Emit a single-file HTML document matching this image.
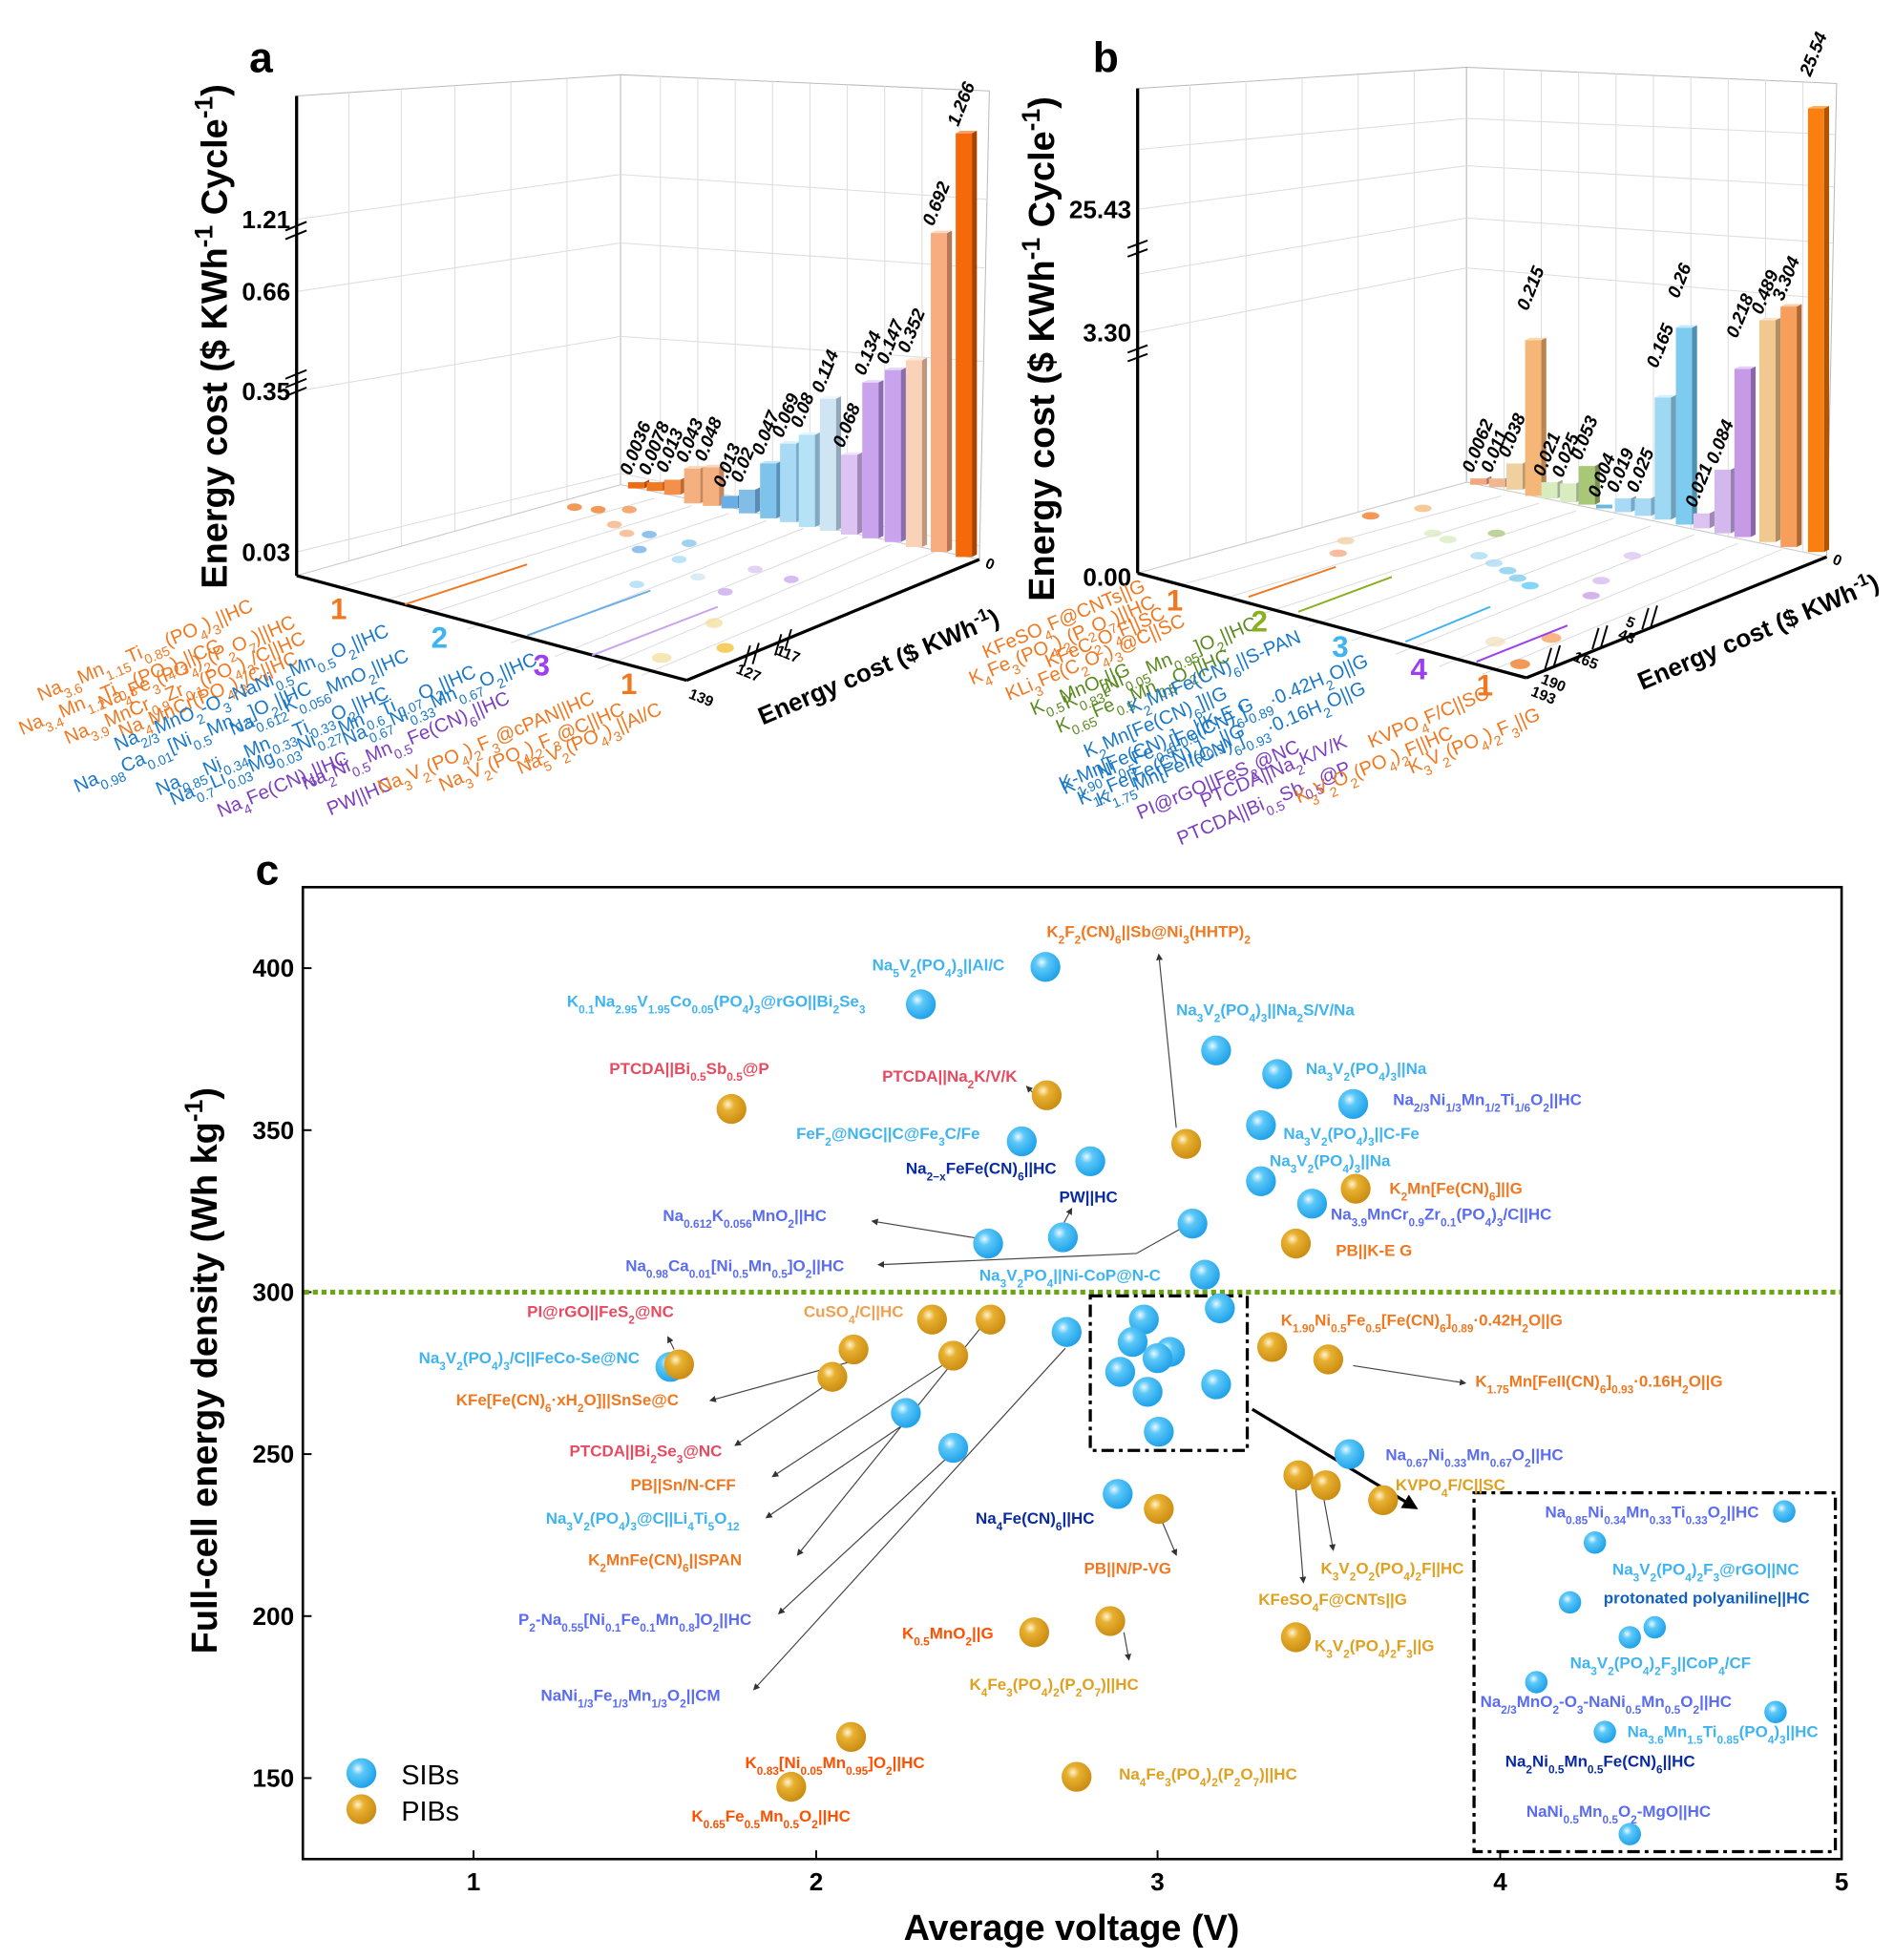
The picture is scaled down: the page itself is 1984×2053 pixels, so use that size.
<!DOCTYPE html>
<html><head><meta charset="utf-8">
<style>
html,body{margin:0;padding:0;background:#fff;}
svg{display:block;font-family:"Liberation Sans",sans-serif;}
.s{font-size:70%;baseline-shift:sub;}
.u{font-size:70%;baseline-shift:super;}
.t{font-weight:bold;font-size:13px;}
.lb{fill:#3fb4f0}.bp{fill:#5a6cf0}.db{fill:#0a2aa0}.or{fill:#f07820}.rd{fill:#e84a5f}.gd{fill:#e0a020}.orr{fill:#ff5000}.pb{fill:#1060c0}
.n{font-weight:bold;font-style:italic;font-size:14.5px;fill:#000}
.ca{font-size:15.5px}
.c1{fill:#f07820}.c2{fill:#1a78c8}.c3{fill:#7b3fc0}.cg{fill:#5a8a20}
.g{stroke:#ddd;stroke-width:0.8;fill:none}
.tk{font-family:"Liberation Sans Narrow","Liberation Sans",sans-serif;font-size:20px;font-weight:bold}
</style></head><body>
<svg width="1984" height="2053" viewBox="0 0 1520 1573" xmlns="http://www.w3.org/2000/svg">
<defs>
<radialGradient id="bb" cx="0.38" cy="0.35" r="0.7"><stop offset="0" stop-color="#eaf8ff"/><stop offset="0.3" stop-color="#5cc8f8"/><stop offset="1" stop-color="#1a9ee8"/></radialGradient>
<radialGradient id="gb" cx="0.38" cy="0.35" r="0.7"><stop offset="0" stop-color="#fff4d0"/><stop offset="0.3" stop-color="#e8b030"/><stop offset="1" stop-color="#c88a10"/></radialGradient>
<marker id="ar" markerWidth="6" markerHeight="6" refX="5" refY="3" orient="auto"><path d="M0,0L6,3L0,6z" fill="#333"/></marker>
<marker id="ab" markerWidth="5" markerHeight="5" refX="4" refY="2.5" orient="auto"><path d="M0,0L5,2.5L0,5z" fill="#000"/></marker>
</defs>

<!-- ============ PANEL A ============ -->
<text x="200" y="58" font-size="34" font-weight="bold">a</text>
<polygon points="238,77 498,60 498,389 238,462" fill="#fff" stroke="#bbb" stroke-width="0.8"/>
<polygon points="498,60 794,73 786,449 498,389" fill="#fff" stroke="#bbb" stroke-width="0.8"/>
<polygon points="238,462 498,389 786,449 551,546" fill="#fff" stroke="#ccc" stroke-width="0.8"/>
<g class="g">
<line x1="238" y1="176" x2="498" y2="140"/><line x1="238" y1="234" x2="498" y2="195"/><line x1="238" y1="314" x2="498" y2="270"/><line x1="238" y1="443" x2="498" y2="380"/>
<line x1="498" y1="140" x2="792" y2="160"/><line x1="498" y1="195" x2="790" y2="215"/><line x1="498" y1="270" x2="789" y2="290"/><line x1="498" y1="380" x2="786" y2="438"/>
<line x1="280" y1="74" x2="280" y2="450"/><line x1="322" y1="71" x2="322" y2="438"/><line x1="365" y1="69" x2="365" y2="426"/><line x1="410" y1="66" x2="410" y2="414"/><line x1="455" y1="63" x2="455" y2="401"/>
<line x1="530" y1="61" x2="530" y2="396"/><line x1="560" y1="63" x2="560" y2="402"/><line x1="590" y1="64" x2="590" y2="408"/><line x1="620" y1="65" x2="620" y2="414"/><line x1="650" y1="67" x2="650" y2="420"/><line x1="680" y1="68" x2="680" y2="427"/><line x1="710" y1="69" x2="710" y2="433"/><line x1="740" y1="71" x2="740" y2="439"/><line x1="770" y1="72" x2="770" y2="445"/>
<line x1="270" y1="472" x2="525" y2="400"/><line x1="305" y1="483" x2="555" y2="406"/><line x1="340" y1="494" x2="585" y2="412"/><line x1="375" y1="505" x2="615" y2="418"/><line x1="410" y1="516" x2="645" y2="424"/><line x1="445" y1="527" x2="680" y2="431"/><line x1="480" y1="537" x2="715" y2="437"/><line x1="515" y1="542" x2="750" y2="443"/>
</g>
<line x1="238" y1="77" x2="238" y2="462" stroke="#000" stroke-width="2.5"/>
<line x1="238" y1="462" x2="551" y2="546" stroke="#000" stroke-width="2.5"/>
<line x1="551" y1="546" x2="786" y2="449" stroke="#000" stroke-width="2.5"/>
<g stroke="#000" stroke-width="1.5">
<line x1="229" y1="185" x2="246" y2="178"/><line x1="229" y1="192" x2="246" y2="185"/>
<line x1="229" y1="304" x2="246" y2="297"/><line x1="229" y1="311" x2="246" y2="304"/><line x1="229" y1="318" x2="246" y2="311"/>
<line x1="597" y1="535" x2="602" y2="518"/><line x1="604" y1="533" x2="609" y2="516"/>
<line x1="622" y1="526" x2="627" y2="509"/><line x1="630" y1="522" x2="635" y2="505"/>
</g>
<g class="tk" text-anchor="end">
<text x="233" y="183">1.21</text><text x="233" y="241">0.66</text><text x="233" y="321">0.35</text><text x="233" y="450">0.03</text>
</g>
<text transform="translate(182,270) rotate(-90)" text-anchor="middle" font-size="29" font-weight="bold">Energy cost ($ KWh<tspan class="u">-1</tspan> Cycle<tspan class="u">-1</tspan>)</text>
<g font-size="12" font-weight="bold">
<text transform="translate(552,560) rotate(22)">139</text><text transform="translate(590,540) rotate(22)">127</text><text transform="translate(622,525) rotate(22)">117</text><text transform="translate(790,455) rotate(22)">0</text>
</g>
<text transform="translate(612,582) rotate(-23)" font-size="20" font-weight="bold">Energy cost ($ KWh<tspan class="u">-1</tspan>)</text>
<g opacity="0.75">
<ellipse cx="461" cy="407" rx="6" ry="3" fill="#f07820"/><ellipse cx="480" cy="409" rx="6" ry="3" fill="#f07820"/><ellipse cx="505" cy="409" rx="6" ry="3" fill="#f4904a"/>
<ellipse cx="493" cy="421" rx="6" ry="3" fill="#f5b080"/><ellipse cx="503" cy="428" rx="6" ry="3" fill="#f5b080"/><ellipse cx="521" cy="429" rx="6" ry="3" fill="#6aaee6"/>
<ellipse cx="513" cy="441" rx="6" ry="3" fill="#6aaee6"/><ellipse cx="553" cy="436" rx="6" ry="3" fill="#7ec3ea"/><ellipse cx="545" cy="449" rx="6" ry="3" fill="#a8daf5"/>
<ellipse cx="560" cy="463" rx="6" ry="3" fill="#cfe5f4"/><ellipse cx="511" cy="469" rx="6" ry="3" fill="#a8daf5"/><ellipse cx="606" cy="457" rx="6" ry="3" fill="#dcc3f2"/>
<ellipse cx="635" cy="465" rx="6" ry="3" fill="#c9a3ee"/><ellipse cx="582" cy="475" rx="6" ry="3" fill="#c9a3ee"/><ellipse cx="573" cy="500" rx="7" ry="4" fill="#f4dfa0"/>
<ellipse cx="582" cy="520" rx="7" ry="4" fill="#f0c030"/><ellipse cx="531" cy="528" rx="8" ry="4" fill="#f4dfa0"/>
</g>
<line x1="325" y1="485" x2="423" y2="453" stroke="#f07820" stroke-width="1.5"/>
<line x1="423" y1="510" x2="522" y2="474" stroke="#6aaee6" stroke-width="1.5"/>
<line x1="475" y1="526" x2="576" y2="487" stroke="#c9a3ee" stroke-width="1.5"/>
<g>
<g><rect x="504" y="387" width="13" height="5" fill="#f06a10"/><polygon points="517,387 521,385 521,390 517,392" fill="#b04808"/></g>
<g><rect x="519" y="387" width="13" height="7" fill="#f07a20"/><polygon points="532,387 536,385 536,392 532,394" fill="#b05010"/></g>
<g><rect x="533" y="385" width="13" height="12" fill="#f4904a"/><polygon points="546,385 550,383 550,395 546,397" fill="#c06a30"/></g>
<g><rect x="549" y="376" width="13" height="28" fill="#f5b080"/><polygon points="562,376 566,374 566,402 562,404" fill="#c88660"/><polygon points="549,376 553,374 566,374 562,376" fill="#fbd6bc"/></g>
<g><rect x="564" y="375" width="13" height="31" fill="#f5b080"/><polygon points="577,375 581,373 581,404 577,406" fill="#c88660"/><polygon points="564,375 568,373 581,373 577,375" fill="#fbd6bc"/></g>
<g><rect x="579" y="398" width="13" height="10" fill="#6aaee6"/><polygon points="592,398 596,396 596,406 592,408" fill="#4a80b0"/></g>
<g><rect x="593" y="393" width="13" height="19" fill="#82bde8"/><polygon points="606,393 610,391 610,410 606,412" fill="#5a8cb8"/></g>
<g><rect x="610" y="372" width="13" height="44" fill="#7ec3ea"/><polygon points="623,372 627,370 627,414 623,416" fill="#5890b8"/><polygon points="610,372 614,370 627,370 623,372" fill="#c0e4f8"/></g>
<g><rect x="626" y="356" width="13" height="63" fill="#a8daf5"/><polygon points="639,356 643,354 643,417 639,419" fill="#78a8c8"/><polygon points="626,356 630,354 643,354 639,356" fill="#dcf2fc"/></g>
<g><rect x="641" y="349" width="13" height="74" fill="#b5e2f7"/><polygon points="654,349 658,347 658,421 654,423" fill="#80aac4"/><polygon points="641,349 645,347 658,347 654,349" fill="#e4f6fd"/></g>
<g><rect x="658" y="320" width="13" height="106" fill="#cfe5f4"/><polygon points="671,320 675,318 675,424 671,426" fill="#94a8bc"/><polygon points="658,320 662,318 675,318 671,320" fill="#eef6fc"/></g>
<g><rect x="675" y="365" width="13" height="64" fill="#dcc3f2"/><polygon points="688,365 692,363 692,427 688,429" fill="#a088b8"/><polygon points="675,365 679,363 692,363 688,365" fill="#f0e4fa"/></g>
<g><rect x="692" y="307" width="13" height="125" fill="#c9a3ee"/><polygon points="705,307 709,305 709,430 705,432" fill="#8c6cb0"/><polygon points="692,307 696,305 709,305 705,307" fill="#e8d8f8"/></g>
<g><rect x="710" y="297" width="13" height="138" fill="#c9a3ee"/><polygon points="723,297 727,295 727,433 723,435" fill="#8c6cb0"/><polygon points="710,297 714,295 727,295 723,297" fill="#e8d8f8"/></g>
<g><rect x="727" y="289" width="13" height="150" fill="#f9d2b8"/><polygon points="740,289 744,287 744,437 740,439" fill="#c09880"/><polygon points="727,289 731,287 744,287 740,289" fill="#fde8da"/></g>
<g><rect x="747" y="187" width="13" height="256" fill="#f7ad80"/><polygon points="760,187 764,185 764,441 760,443" fill="#b87858"/><polygon points="747,187 751,185 764,185 760,187" fill="#fcd8c0"/></g>
<g><rect x="767" y="107" width="13" height="340" fill="#f5690a"/><polygon points="780,107 784,105 784,445 780,447" fill="#a84400"/><polygon points="767,107 771,105 784,105 780,107" fill="#f8a060"/></g>
</g>
<g class="n">
<text transform="translate(506,382) rotate(-68)">0.0036</text><text transform="translate(521,382) rotate(-68)">0.0078</text><text transform="translate(535,380) rotate(-68)">0.013</text><text transform="translate(551,372) rotate(-68)">0.043</text><text transform="translate(566,371) rotate(-68)">0.048</text>
<text transform="translate(581,392) rotate(-68)">0.013</text><text transform="translate(595,388) rotate(-68)">0.02</text><text transform="translate(612,366) rotate(-68)">0.047</text><text transform="translate(628,352) rotate(-68)">0.069</text><text transform="translate(643,344) rotate(-68)">0.08</text><text transform="translate(660,316) rotate(-68)">0.114</text>
<text transform="translate(677,360) rotate(-68)">0.068</text><text transform="translate(694,302) rotate(-68)">0.134</text><text transform="translate(712,293) rotate(-68)">0.147</text><text transform="translate(729,284) rotate(-68)">0.352</text><text transform="translate(749,182) rotate(-68)">0.692</text><text transform="translate(769,102) rotate(-68)">1.266</text>
</g>
<g class="ca" text-anchor="end">
<text class="c1" transform="translate(204,490) rotate(-23)">Na<tspan class="s">3.6</tspan>Mn<tspan class="s">1.15</tspan>Ti<tspan class="s">0.85</tspan>(PO<tspan class="s">4</tspan>)<tspan class="s">3</tspan>||HC</text>
<text class="c1" transform="translate(178,522) rotate(-23)">Na<tspan class="s">3.4</tspan>Mn<tspan class="s">1.2</tspan>Ti<tspan class="s">0.8</tspan>(PO<tspan class="s">4</tspan>)<tspan class="s">3</tspan>||CC</text>
<text class="c1" transform="translate(238,503) rotate(-23)">Na<tspan class="s">4</tspan>Fe<tspan class="s">3</tspan>(PO<tspan class="s">4</tspan>)<tspan class="s">2</tspan>(P<tspan class="s">2</tspan>O<tspan class="s">7</tspan>)||HC</text>
<text class="c1" transform="translate(246,516) rotate(-23)">Na<tspan class="s">3.9</tspan>MnCr<tspan class="s">0.9</tspan>Zr<tspan class="s">0.1</tspan>(PO<tspan class="s">4</tspan>)<tspan class="s">3</tspan>/C||HC</text>
<text class="c1" transform="translate(240,532) rotate(-23)">Na<tspan class="s">4</tspan>MnCr(PO<tspan class="s">4</tspan>)<tspan class="s">3</tspan>/C||HC</text>
<text class="c2" transform="translate(313,510) rotate(-23)">Na<tspan class="s">2/3</tspan>MnO<tspan class="s">2</tspan>-O<tspan class="s">3</tspan>-NaNi<tspan class="s">0.5</tspan>Mn<tspan class="s">0.5</tspan>O<tspan class="s">2</tspan>||HC</text>
<text class="c2" transform="translate(251,556) rotate(-23)">Na<tspan class="s">0.98</tspan>Ca<tspan class="s">0.01</tspan>[Ni<tspan class="s">0.5</tspan>Mn<tspan class="s">0.5</tspan>]O<tspan class="s">2</tspan>||HC</text>
<text class="c2" transform="translate(329,530) rotate(-23)">Na<tspan class="s">0.612</tspan>K<tspan class="s">0.056</tspan>MnO<tspan class="s">2</tspan>||HC</text>
<text class="c2" transform="translate(313,560) rotate(-23)">Na<tspan class="s">0.85</tspan>Ni<tspan class="s">0.34</tspan>Mn<tspan class="s">0.33</tspan>Ti<tspan class="s">0.33</tspan>O<tspan class="s">2</tspan>||HC</text>
<text class="c2" transform="translate(383,543) rotate(-23)">Na<tspan class="s">0.7</tspan>Li<tspan class="s">0.03</tspan>Mg<tspan class="s">0.03</tspan>Ni<tspan class="s">0.27</tspan>Mn<tspan class="s">0.6</tspan>Ti<tspan class="s">0.07</tspan>O<tspan class="s">2</tspan>||HC</text>
<text class="c2" transform="translate(432,533) rotate(-23)">Na<tspan class="s">0.67</tspan>Ni<tspan class="s">0.33</tspan>Mn<tspan class="s">0.67</tspan>O<tspan class="s">2</tspan>||HC</text>
<text class="c3" transform="translate(281,612) rotate(-23)">Na<tspan class="s">4</tspan>Fe(CN)<tspan class="s">6</tspan>||HC</text>
<text class="c3" transform="translate(410,564) rotate(-23)">Na<tspan class="s">2</tspan>Ni<tspan class="s">0.5</tspan>Mn<tspan class="s">0.5</tspan>Fe(CN)<tspan class="s">6</tspan>||HC</text>
<text class="c3" transform="translate(316,633) rotate(-23)">PW||HC</text>
<text class="c1" transform="translate(478,564) rotate(-23)">Na<tspan class="s">3</tspan>V<tspan class="s">2</tspan>(PO<tspan class="s">4</tspan>)<tspan class="s">2</tspan>F<tspan class="s">3</tspan>@cPAN||HC</text>
<text class="c1" transform="translate(502,573) rotate(-23)">Na<tspan class="s">3</tspan>V<tspan class="s">2</tspan>(PO<tspan class="s">4</tspan>)<tspan class="s">2</tspan>F<tspan class="s">3</tspan>@C||HC</text>
<text class="c1" transform="translate(532,573) rotate(-23)">Na<tspan class="s">5</tspan>V<tspan class="s">2</tspan>(PO<tspan class="s">4</tspan>)<tspan class="s">3</tspan>||Al/C</text>
</g>
<g font-size="24" font-weight="bold">
<text x="265" y="497" fill="#f07820">1</text><text x="346" y="520" fill="#3fb4f0">2</text><text x="428" y="542" fill="#9b3ff0">3</text><text x="498" y="557" fill="#f07820">1</text>
</g>

<!-- ============ PANEL B ============ -->
<text x="877" y="58" font-size="34" font-weight="bold">b</text>
<polygon points="913,71 1177,54 1177,387 913,460" fill="#fff" stroke="#bbb" stroke-width="0.8"/>
<polygon points="1177,54 1474,67 1466,447 1177,387" fill="#fff" stroke="#bbb" stroke-width="0.8"/>
<polygon points="913,460 1177,387 1466,447 1225,544" fill="#fff" stroke="#ccc" stroke-width="0.8"/>
<g class="g">
<line x1="913" y1="168" x2="1177" y2="133"/><line x1="913" y1="267" x2="1177" y2="215"/><line x1="913" y1="220" x2="1177" y2="175"/><line x1="913" y1="120" x2="1177" y2="95"/>
<line x1="1177" y1="133" x2="1472" y2="150"/><line x1="1177" y1="215" x2="1470" y2="240"/><line x1="1177" y1="175" x2="1471" y2="195"/><line x1="1177" y1="95" x2="1473" y2="108"/>
<line x1="955" y1="68" x2="955" y2="448"/><line x1="1000" y1="65" x2="1000" y2="436"/><line x1="1045" y1="62" x2="1045" y2="424"/><line x1="1090" y1="60" x2="1090" y2="411"/><line x1="1135" y1="57" x2="1135" y2="399"/>
<line x1="1207" y1="55" x2="1207" y2="393"/><line x1="1237" y1="57" x2="1237" y2="399"/><line x1="1267" y1="58" x2="1267" y2="405"/><line x1="1297" y1="59" x2="1297" y2="412"/><line x1="1327" y1="61" x2="1327" y2="418"/><line x1="1357" y1="62" x2="1357" y2="424"/><line x1="1387" y1="63" x2="1387" y2="430"/><line x1="1417" y1="64" x2="1417" y2="436"/><line x1="1447" y1="66" x2="1447" y2="443"/>
<line x1="945" y1="470" x2="1205" y2="398"/><line x1="980" y1="481" x2="1235" y2="404"/><line x1="1015" y1="492" x2="1265" y2="410"/><line x1="1050" y1="503" x2="1295" y2="416"/><line x1="1085" y1="514" x2="1325" y2="422"/><line x1="1120" y1="525" x2="1360" y2="429"/><line x1="1155" y1="535" x2="1395" y2="436"/><line x1="1190" y1="541" x2="1430" y2="441"/>
</g>
<line x1="913" y1="71" x2="913" y2="460" stroke="#000" stroke-width="2.5"/>
<line x1="913" y1="460" x2="1225" y2="544" stroke="#000" stroke-width="2.5"/>
<line x1="1225" y1="544" x2="1466" y2="447" stroke="#000" stroke-width="2.5"/>
<g stroke="#000" stroke-width="1.5">
<line x1="905" y1="199" x2="921" y2="193"/><line x1="905" y1="206" x2="921" y2="200"/>
<line x1="905" y1="283" x2="921" y2="277"/><line x1="905" y1="290" x2="921" y2="284"/>
<line x1="1240" y1="537" x2="1245" y2="520"/><line x1="1247" y1="535" x2="1252" y2="518"/>
<line x1="1278" y1="521" x2="1283" y2="504"/><line x1="1285" y1="519" x2="1290" y2="502"/>
<line x1="1318" y1="505" x2="1323" y2="488"/><line x1="1325" y1="503" x2="1330" y2="486"/>
</g>
<g class="tk" text-anchor="end">
<text x="908" y="175">25.43</text><text x="908" y="274">3.30</text><text x="908" y="470">0.00</text>
</g>
<text transform="translate(846,280) rotate(-90)" text-anchor="middle" font-size="29" font-weight="bold">Energy cost ($ KWh<tspan class="u">-1</tspan> Cycle<tspan class="u">-1</tspan>)</text>
<g font-size="12" font-weight="bold">
<text transform="translate(1228,558) rotate(22)">193</text><text transform="translate(1236,548) rotate(22)">190</text><text transform="translate(1262,530) rotate(22)">165</text><text transform="translate(1298,512) rotate(22)">43</text><text transform="translate(1304,502) rotate(22)">5</text><text transform="translate(1470,452) rotate(22)">0</text>
</g>
<text transform="translate(1318,554) rotate(-23)" font-size="20" font-weight="bold">Energy cost ($ KWh<tspan class="u">-1</tspan>)</text>
<g opacity="0.75">
<ellipse cx="1100" cy="414" rx="7" ry="3" fill="#f07820"/><ellipse cx="1142" cy="408" rx="7" ry="3" fill="#f4b778"/><ellipse cx="1080" cy="434" rx="7" ry="3" fill="#f0d0a0"/><ellipse cx="1074" cy="444" rx="7" ry="3" fill="#f4a582"/>
<ellipse cx="1150" cy="428" rx="7" ry="3" fill="#d8ecc0"/><ellipse cx="1162" cy="433" rx="7" ry="3" fill="#d8ecc0"/><ellipse cx="1201" cy="428" rx="7" ry="3" fill="#a8c878"/>
<ellipse cx="1187" cy="446" rx="7" ry="3" fill="#a8daf5"/><ellipse cx="1199" cy="452" rx="7" ry="3" fill="#a8daf5"/><ellipse cx="1210" cy="458" rx="7" ry="3" fill="#7dcbef"/><ellipse cx="1218" cy="464" rx="7" ry="3" fill="#7dcbef"/><ellipse cx="1228" cy="470" rx="7" ry="3" fill="#5cc8f8"/>
<ellipse cx="1310" cy="446" rx="7" ry="3" fill="#dcc3f2"/><ellipse cx="1285" cy="466" rx="7" ry="3" fill="#d3b8ee"/><ellipse cx="1277" cy="478" rx="7" ry="3" fill="#c79ae8"/>
<ellipse cx="1200" cy="515" rx="8" ry="4" fill="#f4dfc0"/><ellipse cx="1245" cy="512" rx="8" ry="4" fill="#f79e5c"/><ellipse cx="1220" cy="533" rx="8" ry="4" fill="#f07820"/>
</g>
<line x1="1002" y1="479" x2="1072" y2="455" stroke="#f07820" stroke-width="1.5"/>
<line x1="1042" y1="491" x2="1117" y2="463" stroke="#8ab020" stroke-width="1.5"/>
<line x1="1128" y1="515" x2="1196" y2="487" stroke="#3fb4f0" stroke-width="1.5"/>
<line x1="1185" y1="531" x2="1258" y2="502" stroke="#9b3ff0" stroke-width="1.5"/>
<g>
<g><rect x="1180" y="384" width="13" height="5" fill="#f4a582"/><polygon points="1193,384 1197,382 1197,387 1193,389" fill="#b87860"/></g>
<g><rect x="1195" y="384" width="13" height="7" fill="#f0b890"/><polygon points="1208,384 1212,382 1212,389 1208,391" fill="#b88868"/></g>
<g><rect x="1209" y="372" width="13" height="21" fill="#f0d0a0"/><polygon points="1222,372 1226,370 1226,391 1222,393" fill="#b89c70"/></g>
<g><rect x="1224" y="273" width="13" height="125" fill="#f4b778"/><polygon points="1237,273 1241,271 1241,396 1237,398" fill="#b88450"/><polygon points="1224,273 1228,271 1241,271 1237,273" fill="#fad8b0"/></g>
<g><rect x="1237" y="387" width="13" height="13" fill="#d8ecc0"/><polygon points="1250,387 1254,385 1254,398 1250,400" fill="#a0b090"/></g>
<g><rect x="1252" y="388" width="13" height="15" fill="#d8ecc0"/><polygon points="1265,388 1269,386 1269,401 1265,403" fill="#a0b090"/></g>
<g><rect x="1267" y="374" width="13" height="31" fill="#a8c878"/><polygon points="1280,374 1284,372 1284,403 1280,405" fill="#789050"/></g>
<g><rect x="1281" y="405" width="13" height="3" fill="#6ab8e0"/></g>
<g><rect x="1296" y="400" width="13" height="11" fill="#a8daf5"/><polygon points="1309,400 1313,398 1313,409 1309,411" fill="#78a8c8"/></g>
<g><rect x="1312" y="400" width="13" height="14" fill="#a8daf5"/><polygon points="1325,400 1329,398 1329,412 1325,414" fill="#78a8c8"/></g>
<g><rect x="1328" y="319" width="13" height="98" fill="#9ed8f2"/><polygon points="1341,319 1345,317 1345,415 1341,417" fill="#6ea0b8"/><polygon points="1328,319 1332,317 1345,317 1341,319" fill="#d4f0fb"/></g>
<g><rect x="1345" y="263" width="13" height="158" fill="#7dcbef"/><polygon points="1358,263 1362,261 1362,419 1358,421" fill="#4e90b0"/><polygon points="1345,263 1349,261 1362,261 1358,263" fill="#c4eafa"/></g>
<g><rect x="1359" y="412" width="13" height="12" fill="#dcc3f2"/><polygon points="1372,412 1376,410 1376,422 1372,424" fill="#a088b8"/></g>
<g><rect x="1376" y="377" width="13" height="51" fill="#d3b8ee"/><polygon points="1389,377 1393,375 1393,426 1389,428" fill="#9880b0"/></g>
<g><rect x="1392" y="296" width="13" height="135" fill="#c79ae8"/><polygon points="1405,296 1409,294 1409,429 1405,431" fill="#8a66ac"/><polygon points="1392,296 1396,294 1409,294 1405,296" fill="#e4d0f6"/></g>
<g><rect x="1412" y="257" width="13" height="178" fill="#f0c890"/><polygon points="1425,257 1429,255 1429,433 1425,435" fill="#b09060"/><polygon points="1412,257 1416,255 1429,255 1425,257" fill="#f8e4c8"/></g>
<g><rect x="1429" y="246" width="13" height="193" fill="#f79e5c"/><polygon points="1442,246 1446,244 1446,437 1442,439" fill="#b06830"/><polygon points="1429,246 1433,244 1446,244 1442,246" fill="#fbcca8"/></g>
<g><rect x="1451" y="87" width="13" height="356" fill="#f98010"/><polygon points="1464,87 1468,85 1468,441 1464,443" fill="#b05400"/><polygon points="1451,87 1455,85 1468,85 1464,87" fill="#fcb060"/></g>
</g>
<g class="n">
<text transform="translate(1182,380) rotate(-68)">0.0062</text><text transform="translate(1197,380) rotate(-68)">0.011</text><text transform="translate(1211,368) rotate(-68)">0.038</text><text transform="translate(1226,250) rotate(-68)">0.215</text>
<text transform="translate(1239,383) rotate(-68)">0.021</text><text transform="translate(1254,384) rotate(-68)">0.025</text><text transform="translate(1269,370) rotate(-68)">0.053</text>
<text transform="translate(1283,400) rotate(-68)">0.004</text><text transform="translate(1298,396) rotate(-68)">0.019</text><text transform="translate(1314,396) rotate(-68)">0.025</text><text transform="translate(1330,296) rotate(-68)">0.165</text><text transform="translate(1347,240) rotate(-68)">0.26</text>
<text transform="translate(1361,408) rotate(-68)">0.021</text><text transform="translate(1378,373) rotate(-68)">0.084</text><text transform="translate(1394,272) rotate(-68)">0.218</text><text transform="translate(1414,253) rotate(-68)">0.489</text><text transform="translate(1431,242) rotate(-68)">3.304</text><text transform="translate(1453,62) rotate(-68)">25.54</text>
</g>
<g class="ca" text-anchor="end">
<text class="c1" transform="translate(920,474) rotate(-23)">KFeSO<tspan class="s">4</tspan>F@CNTs||G</text>
<text class="c1" transform="translate(928,487) rotate(-23)">K<tspan class="s">4</tspan>Fe<tspan class="s">3</tspan>(PO<tspan class="s">4</tspan>)<tspan class="s">2</tspan>(P<tspan class="s">2</tspan>O<tspan class="s">7</tspan>)||HC</text>
<text class="c1" transform="translate(936,496) rotate(-23)">KFeC<tspan class="s">2</tspan>O<tspan class="s">4</tspan>F||SC</text>
<text class="c1" transform="translate(952,502) rotate(-23)">KLi<tspan class="s">3</tspan>Fe(C<tspan class="s">2</tspan>O<tspan class="s">4</tspan>)<tspan class="s">3</tspan>@C||SC</text>
<text class="cg" transform="translate(908,541) rotate(-23)">K<tspan class="s">0.5</tspan>MnO<tspan class="s">2</tspan>||G</text>
<text class="cg" transform="translate(1010,504) rotate(-23)">K<tspan class="s">0.83</tspan>[Ni<tspan class="s">0.05</tspan>Mn<tspan class="s">0.95</tspan>]O<tspan class="s">2</tspan>||HC</text>
<text class="cg" transform="translate(988,530) rotate(-23)">K<tspan class="s">0.65</tspan>Fe<tspan class="s">0.5</tspan>Mn<tspan class="s">0.5</tspan>O<tspan class="s">2</tspan>||HC</text>
<text class="c2" transform="translate(1045,515) rotate(-23)">K<tspan class="s">2</tspan>MnFe(CN)<tspan class="s">6</tspan>||S-PAN</text>
<text class="c2" transform="translate(986,560) rotate(-23)">K<tspan class="s">2</tspan>Mn[Fe(CN)<tspan class="s">6</tspan>]||G</text>
<text class="c2" transform="translate(1007,569) rotate(-23)">K-Mn[Fe(CN)<tspan class="s">6</tspan>]<tspan class="s">0.9</tspan>||K-E G</text>
<text class="c2" transform="translate(1000,590) rotate(-23)">K<tspan class="s">1.7</tspan>Fe[Fe(CN)<tspan class="s">6</tspan>]<tspan class="s">0.9</tspan>||G</text>
<text class="c2" transform="translate(1099,534) rotate(-23)">K<tspan class="s">1.90</tspan>Ni<tspan class="s">0.5</tspan>Fe<tspan class="s">0.5</tspan>[Fe(CN)<tspan class="s">6</tspan>]<tspan class="s">0.89</tspan>·0.42H<tspan class="s">2</tspan>O||G</text>
<text class="c2" transform="translate(1097,556) rotate(-23)">K<tspan class="s">1.75</tspan>Mn[FeII(CN)<tspan class="s">6</tspan>]<tspan class="s">0.93</tspan>·0.16H<tspan class="s">2</tspan>O||G</text>
<text class="c3" transform="translate(1044,603) rotate(-23)">PI@rGO||FeS<tspan class="s">2</tspan>@NC</text>
<text class="c3" transform="translate(1082,599) rotate(-23)">PTCDA||Na<tspan class="s">2</tspan>K/V/K</text>
<text class="c3" transform="translate(1085,620) rotate(-23)">PTCDA||Bi<tspan class="s">0.5</tspan>Sb<tspan class="s">0.5</tspan>@P</text>
<text class="c1" transform="translate(1196,560) rotate(-23)">KVPO<tspan class="s">4</tspan>F/C||SC</text>
<text class="c1" transform="translate(1167,592) rotate(-23)">K<tspan class="s">3</tspan>V<tspan class="s">2</tspan>O<tspan class="s">2</tspan>(PO<tspan class="s">4</tspan>)<tspan class="s">2</tspan>F||HC</text>
<text class="c1" transform="translate(1237,577) rotate(-23)">K<tspan class="s">3</tspan>V<tspan class="s">2</tspan>(PO<tspan class="s">4</tspan>)<tspan class="s">2</tspan>F<tspan class="s">3</tspan>||G</text>
</g>
<g font-size="24" font-weight="bold">
<text x="936" y="490" fill="#f07820">1</text><text x="1004" y="507" fill="#8ab020">2</text><text x="1069" y="527" fill="#3fb4f0">3</text><text x="1132" y="545" fill="#9b3ff0">4</text><text x="1185" y="558" fill="#f07820">1</text>
</g>

<!-- ============ PANEL C ============ -->
<text x="205" y="710" font-size="34" font-weight="bold">c</text>
<rect x="243" y="712" width="1235" height="780" fill="none" stroke="#000" stroke-width="2"/>
<g stroke="#000" stroke-width="1.5">
<line x1="380" y1="1492" x2="380" y2="1485"/><line x1="655" y1="1492" x2="655" y2="1485"/><line x1="929" y1="1492" x2="929" y2="1485"/><line x1="1204" y1="1492" x2="1204" y2="1485"/>
<line x1="243" y1="777" x2="250" y2="777"/><line x1="243" y1="907" x2="250" y2="907"/><line x1="243" y1="1037" x2="250" y2="1037"/><line x1="243" y1="1167" x2="250" y2="1167"/><line x1="243" y1="1297" x2="250" y2="1297"/><line x1="243" y1="1427" x2="250" y2="1427"/>
</g>
<g class="tk" text-anchor="middle">
<text x="380" y="1517">1</text><text x="655" y="1517">2</text><text x="929" y="1517">3</text><text x="1204" y="1517">4</text><text x="1478" y="1517">5</text>
</g>
<g class="tk" text-anchor="end">
<text x="236" y="784">400</text><text x="236" y="914">350</text><text x="236" y="1044">300</text><text x="236" y="1174">250</text><text x="236" y="1304">200</text><text x="236" y="1434">150</text>
</g>
<text x="860" y="1557" text-anchor="middle" font-size="29" font-weight="bold">Average voltage (V)</text>
<text transform="translate(174,1100) rotate(-90)" text-anchor="middle" font-size="29" font-weight="bold">Full-cell energy density (Wh kg<tspan class="u">-1</tspan>)</text>
<line x1="244" y1="1037" x2="1477" y2="1037" stroke="#6aa516" stroke-width="4" stroke-dasharray="4,3"/>
<rect x="875" y="1040" width="126" height="124" fill="none" stroke="#000" stroke-width="2.5" stroke-dasharray="10,4,3,4"/>
<rect x="1183" y="1198" width="290" height="288" fill="none" stroke="#000" stroke-width="2.5" stroke-dasharray="10,4,3,4"/>
<line x1="1005" y1="1131" x2="1136" y2="1210" stroke="#000" stroke-width="2.5" marker-end="url(#ab)"/>
<g stroke="#444" stroke-width="0.9" fill="none" marker-end="url(#ar)">
<line x1="944" y1="905" x2="930" y2="766"/>
<line x1="837" y1="885" x2="824" y2="872"/>
<line x1="854" y1="981" x2="860" y2="970"/>
<line x1="786" y1="994" x2="700" y2="980"/>
<polyline points="955,982 912,1006 705,1015"/>
<line x1="682" y1="1093" x2="570" y2="1124"/>
<line x1="667" y1="1109" x2="590" y2="1160"/>
<line x1="756" y1="1096" x2="620" y2="1185"/>
<line x1="730" y1="1140" x2="615" y2="1218"/>
<line x1="790" y1="1062" x2="640" y2="1248"/>
<line x1="760" y1="1170" x2="625" y2="1295"/>
<line x1="855" y1="1082" x2="605" y2="1356"/>
<line x1="1086" y1="1096" x2="1176" y2="1110"/>
<line x1="1040" y1="1195" x2="1046" y2="1270"/>
<line x1="1061" y1="1195" x2="1070" y2="1244"/>
<line x1="933" y1="1222" x2="944" y2="1248"/>
<line x1="902" y1="1310" x2="906" y2="1332"/>
<line x1="541" y1="1083" x2="536" y2="1073"/>
</g>
<g fill="url(#bb)">
<circle cx="839" cy="776" r="12"/><circle cx="739" cy="806" r="12"/><circle cx="976" cy="843" r="12"/><circle cx="1025" cy="862" r="12"/><circle cx="1086" cy="886" r="12"/>
<circle cx="820" cy="916" r="12"/><circle cx="875" cy="932" r="12"/><circle cx="1012" cy="903" r="12"/><circle cx="1012" cy="948" r="12"/><circle cx="1053" cy="966" r="12"/>
<circle cx="957" cy="982" r="12"/><circle cx="793" cy="998" r="12"/><circle cx="853" cy="993" r="12"/><circle cx="967" cy="1023" r="12"/><circle cx="979" cy="1050" r="12"/>
<circle cx="918" cy="1059" r="12"/><circle cx="909" cy="1077" r="12"/><circle cx="939" cy="1085" r="12"/><circle cx="929" cy="1090" r="12"/><circle cx="899" cy="1101" r="12"/>
<circle cx="921" cy="1117" r="12"/><circle cx="976" cy="1111" r="12"/><circle cx="930" cy="1149" r="12"/><circle cx="727" cy="1134" r="12"/><circle cx="765" cy="1162" r="12"/>
<circle cx="856" cy="1069" r="12"/><circle cx="1083" cy="1167" r="12"/><circle cx="897" cy="1199" r="12"/><circle cx="538" cy="1097" r="12"/>
<circle cx="1432" cy="1213" r="9"/><circle cx="1280" cy="1238" r="9"/><circle cx="1260" cy="1286" r="9"/><circle cx="1328" cy="1306" r="9"/><circle cx="1308" cy="1314" r="9"/>
<circle cx="1233" cy="1350" r="9"/><circle cx="1425" cy="1374" r="9"/><circle cx="1288" cy="1390" r="9"/><circle cx="1308" cy="1472" r="9"/>
</g>
<g fill="url(#gb)">
<circle cx="587" cy="890" r="12"/><circle cx="840" cy="879" r="12"/><circle cx="952" cy="918" r="12"/><circle cx="1088" cy="954" r="12"/><circle cx="1040" cy="998" r="12"/>
<circle cx="748" cy="1059" r="12"/><circle cx="795" cy="1059" r="12"/><circle cx="685" cy="1083" r="12"/><circle cx="668" cy="1105" r="12"/><circle cx="765" cy="1088" r="12"/>
<circle cx="545" cy="1095" r="12"/><circle cx="1021" cy="1081" r="12"/><circle cx="1066" cy="1091" r="12"/><circle cx="1042" cy="1184" r="12"/><circle cx="1064" cy="1192" r="12"/>
<circle cx="1110" cy="1204" r="12"/><circle cx="930" cy="1211" r="12"/><circle cx="830" cy="1310" r="12"/><circle cx="891" cy="1301" r="12"/><circle cx="1040" cy="1314" r="12"/>
<circle cx="683" cy="1394" r="12"/><circle cx="635" cy="1434" r="12"/><circle cx="864" cy="1426" r="12"/>
</g>
<circle cx="290" cy="1423" r="12" fill="url(#bb)"/><circle cx="290" cy="1452" r="12" fill="url(#gb)"/>
<text x="322" y="1432" font-size="22" font-family="Liberation Sans Narrow, Liberation Sans, sans-serif">SIBs</text><text x="322" y="1461" font-size="22" font-family="Liberation Sans Narrow, Liberation Sans, sans-serif">PIBs</text>
<g class="t">
<text class="or" x="840" y="752">K<tspan class="s">2</tspan>F<tspan class="s">2</tspan>(CN)<tspan class="s">6</tspan>||Sb@Ni<tspan class="s">3</tspan>(HHTP)<tspan class="s">2</tspan></text>
<text class="lb" x="700" y="779">Na<tspan class="s">5</tspan>V<tspan class="s">2</tspan>(PO<tspan class="s">4</tspan>)<tspan class="s">3</tspan>||Al/C</text>
<text class="lb" x="455" y="808">K<tspan class="s">0.1</tspan>Na<tspan class="s">2.95</tspan>V<tspan class="s">1.95</tspan>Co<tspan class="s">0.05</tspan>(PO<tspan class="s">4</tspan>)<tspan class="s">3</tspan>@rGO||Bi<tspan class="s">2</tspan>Se<tspan class="s">3</tspan></text>
<text class="lb" x="944" y="815">Na<tspan class="s">3</tspan>V<tspan class="s">2</tspan>(PO<tspan class="s">4</tspan>)<tspan class="s">3</tspan>||Na<tspan class="s">2</tspan>S/V/Na</text>
<text class="rd" x="489" y="862">PTCDA||Bi<tspan class="s">0.5</tspan>Sb<tspan class="s">0.5</tspan>@P</text>
<text class="rd" x="708" y="868">PTCDA||Na<tspan class="s">2</tspan>K/V/K</text>
<text class="lb" x="1048" y="862">Na<tspan class="s">3</tspan>V<tspan class="s">2</tspan>(PO<tspan class="s">4</tspan>)<tspan class="s">3</tspan>||Na</text>
<text class="bp" x="1118" y="887">Na<tspan class="s">2/3</tspan>Ni<tspan class="s">1/3</tspan>Mn<tspan class="s">1/2</tspan>Ti<tspan class="s">1/6</tspan>O<tspan class="s">2</tspan>||HC</text>
<text class="lb" x="639" y="914">FeF<tspan class="s">2</tspan>@NGC||C@Fe<tspan class="s">3</tspan>C/Fe</text>
<text class="lb" x="1030" y="914">Na<tspan class="s">3</tspan>V<tspan class="s">2</tspan>(PO<tspan class="s">4</tspan>)<tspan class="s">3</tspan>||C-Fe</text>
<text class="db" x="727" y="942">Na<tspan class="s">2−x</tspan>FeFe(CN)<tspan class="s">6</tspan>||HC</text>
<text class="lb" x="1019" y="936">Na<tspan class="s">3</tspan>V<tspan class="s">2</tspan>(PO<tspan class="s">4</tspan>)<tspan class="s">3</tspan>||Na</text>
<text class="or" x="1115" y="958">K<tspan class="s">2</tspan>Mn[Fe(CN)<tspan class="s">6</tspan>]||G</text>
<text class="db" x="850" y="965">PW||HC</text>
<text class="bp" x="532" y="980">Na<tspan class="s">0.612</tspan>K<tspan class="s">0.056</tspan>MnO<tspan class="s">2</tspan>||HC</text>
<text class="bp" x="1068" y="979">Na<tspan class="s">3.9</tspan>MnCr<tspan class="s">0.9</tspan>Zr<tspan class="s">0.1</tspan>(PO<tspan class="s">4</tspan>)<tspan class="s">3</tspan>/C||HC</text>
<text class="or" x="1072" y="1008">PB||K-E G</text>
<text class="bp" x="502" y="1020">Na<tspan class="s">0.98</tspan>Ca<tspan class="s">0.01</tspan>[Ni<tspan class="s">0.5</tspan>Mn<tspan class="s">0.5</tspan>]O<tspan class="s">2</tspan>||HC</text>
<text class="lb" x="786" y="1028">Na<tspan class="s">3</tspan>V<tspan class="s">2</tspan>PO<tspan class="s">4</tspan>||Ni-CoP@N-C</text>
<text class="rd" x="423" y="1057">PI@rGO||FeS<tspan class="s">2</tspan>@NC</text>
<text class="or" x="645" y="1057" style="fill:#f0a050">CuSO<tspan class="s">4</tspan>/C||HC</text>
<text class="or" x="1028" y="1064">K<tspan class="s">1.90</tspan>Ni<tspan class="s">0.5</tspan>Fe<tspan class="s">0.5</tspan>[Fe(CN)<tspan class="s">6</tspan>]<tspan class="s">0.89</tspan>·0.42H<tspan class="s">2</tspan>O||G</text>
<text class="lb" x="336" y="1094">Na<tspan class="s">3</tspan>V<tspan class="s">2</tspan>(PO<tspan class="s">4</tspan>)<tspan class="s">3</tspan>/C||FeCo-Se@NC</text>
<text class="or" x="1184" y="1113">K<tspan class="s">1.75</tspan>Mn[FeII(CN)<tspan class="s">6</tspan>]<tspan class="s">0.93</tspan>·0.16H<tspan class="s">2</tspan>O||G</text>
<text class="or" x="366" y="1128">KFe[Fe(CN)<tspan class="s">6</tspan>·xH<tspan class="s">2</tspan>O]||SnSe@C</text>
<text class="rd" x="457" y="1169">PTCDA||Bi<tspan class="s">2</tspan>Se<tspan class="s">3</tspan>@NC</text>
<text class="bp" x="1112" y="1172">Na<tspan class="s">0.67</tspan>Ni<tspan class="s">0.33</tspan>Mn<tspan class="s">0.67</tspan>O<tspan class="s">2</tspan>||HC</text>
<text class="or" x="506" y="1196">PB||Sn/N-CFF</text>
<text class="gd" x="1120" y="1196">KVPO<tspan class="s">4</tspan>F/C||SC</text>
<text class="lb" x="438" y="1223">Na<tspan class="s">3</tspan>V<tspan class="s">2</tspan>(PO<tspan class="s">4</tspan>)<tspan class="s">3</tspan>@C||Li<tspan class="s">4</tspan>Ti<tspan class="s">5</tspan>O<tspan class="s">12</tspan></text>
<text class="db" x="783" y="1223">Na<tspan class="s">4</tspan>Fe(CN)<tspan class="s">6</tspan>||HC</text>
<text class="or" x="472" y="1256">K<tspan class="s">2</tspan>MnFe(CN)<tspan class="s">6</tspan>||SPAN</text>
<text class="or" x="870" y="1263">PB||N/P-VG</text>
<text class="gd" x="1060" y="1263">K<tspan class="s">3</tspan>V<tspan class="s">2</tspan>O<tspan class="s">2</tspan>(PO<tspan class="s">4</tspan>)<tspan class="s">2</tspan>F||HC</text>
<text class="gd" x="1010" y="1288">KFeSO<tspan class="s">4</tspan>F@CNTs||G</text>
<text class="bp" x="416" y="1304">P<tspan class="s">2</tspan>-Na<tspan class="s">0.55</tspan>[Ni<tspan class="s">0.1</tspan>Fe<tspan class="s">0.1</tspan>Mn<tspan class="s">0.8</tspan>]O<tspan class="s">2</tspan>||HC</text>
<text class="orr" x="724" y="1315">K<tspan class="s">0.5</tspan>MnO<tspan class="s">2</tspan>||G</text>
<text class="gd" x="1055" y="1325">K<tspan class="s">3</tspan>V<tspan class="s">2</tspan>(PO<tspan class="s">4</tspan>)<tspan class="s">2</tspan>F<tspan class="s">3</tspan>||G</text>
<text class="gd" x="778" y="1356">K<tspan class="s">4</tspan>Fe<tspan class="s">3</tspan>(PO<tspan class="s">4</tspan>)<tspan class="s">2</tspan>(P<tspan class="s">2</tspan>O<tspan class="s">7</tspan>)||HC</text>
<text class="bp" x="434" y="1365">NaNi<tspan class="s">1/3</tspan>Fe<tspan class="s">1/3</tspan>Mn<tspan class="s">1/3</tspan>O<tspan class="s">2</tspan>||CM</text>
<text class="orr" x="598" y="1419">K<tspan class="s">0.83</tspan>[Ni<tspan class="s">0.05</tspan>Mn<tspan class="s">0.95</tspan>]O<tspan class="s">2</tspan>||HC</text>
<text class="gd" x="898" y="1428">Na<tspan class="s">4</tspan>Fe<tspan class="s">3</tspan>(PO<tspan class="s">4</tspan>)<tspan class="s">2</tspan>(P<tspan class="s">2</tspan>O<tspan class="s">7</tspan>)||HC</text>
<text class="orr" x="555" y="1462">K<tspan class="s">0.65</tspan>Fe<tspan class="s">0.5</tspan>Mn<tspan class="s">0.5</tspan>O<tspan class="s">2</tspan>||HC</text>
<text class="bp" x="1240" y="1218">Na<tspan class="s">0.85</tspan>Ni<tspan class="s">0.34</tspan>Mn<tspan class="s">0.33</tspan>Ti<tspan class="s">0.33</tspan>O<tspan class="s">2</tspan>||HC</text>
<text class="lb" x="1294" y="1264">Na<tspan class="s">3</tspan>V<tspan class="s">2</tspan>(PO<tspan class="s">4</tspan>)<tspan class="s">2</tspan>F<tspan class="s">3</tspan>@rGO||NC</text>
<text class="pb" x="1287" y="1287">protonated polyaniline||HC</text>
<text class="lb" x="1260" y="1339">Na<tspan class="s">3</tspan>V<tspan class="s">2</tspan>(PO<tspan class="s">4</tspan>)<tspan class="s">2</tspan>F<tspan class="s">3</tspan>||CoP<tspan class="s">4</tspan>/CF</text>
<text class="bp" x="1188" y="1370">Na<tspan class="s">2/3</tspan>MnO<tspan class="s">2</tspan>-O<tspan class="s">3</tspan>-NaNi<tspan class="s">0.5</tspan>Mn<tspan class="s">0.5</tspan>O<tspan class="s">2</tspan>||HC</text>
<text class="lb" x="1306" y="1394">Na<tspan class="s">3.6</tspan>Mn<tspan class="s">1.5</tspan>Ti<tspan class="s">0.85</tspan>(PO<tspan class="s">4</tspan>)<tspan class="s">3</tspan>||HC</text>
<text class="db" x="1208" y="1418">Na<tspan class="s">2</tspan>Ni<tspan class="s">0.5</tspan>Mn<tspan class="s">0.5</tspan>Fe(CN)<tspan class="s">6</tspan>||HC</text>
<text class="bp" x="1225" y="1458">NaNi<tspan class="s">0.5</tspan>Mn<tspan class="s">0.5</tspan>O<tspan class="s">2</tspan>-MgO||HC</text>
</g>
</svg>
</body></html>
